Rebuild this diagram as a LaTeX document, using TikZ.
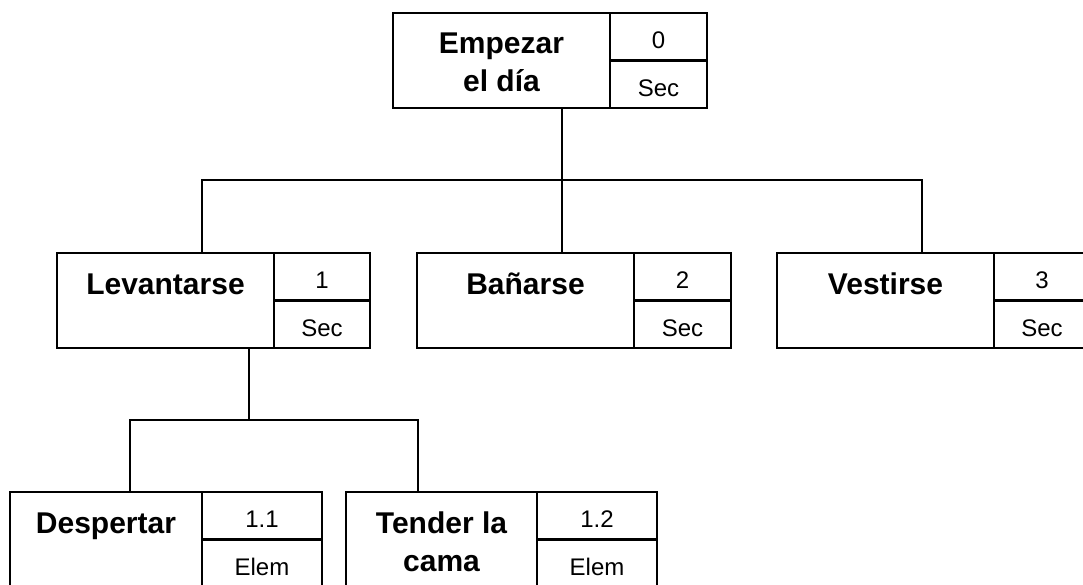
\documentclass[tikz,border=0pt]{standalone}
\usepackage{fontspec}
\setmainfont{Liberation Sans}
\begin{document}
\begin{tikzpicture}[x=1pt,y=-1pt,line join=miter]
  % Local definitions
  \def\boxh{95}

  % Styles
  \tikzstyle{box line}=[line width=2.7pt]
  \tikzstyle{main cell}=[draw,style=box line,rectangle,anchor=north west,
    inner sep=0pt,outer sep=0pt,minimum height=\boxh pt]
  \tikzstyle{num cell}=[draw,style=box line,rectangle,anchor=north west,
    inner sep=0pt,outer sep=0pt,minimum height=47.5pt,
    font=\fontsize{24}{28}\selectfont,text height=24pt,text depth=0pt]
  \tikzstyle{task text}=[anchor=base,inner sep=0pt,
    font=\fontsize{30}{38}\selectfont\bfseries]
  \tikzstyle{connector}=[line width=2.7pt]

  \useasboundingbox (0,0) rectangle (1083,585);

  % The boxes
  \foreach \id/\x/\y/\mw/\nw/\num/\kind/\txt in {
      empezar/393/13/217/97/0/Sec/{Empezar\\el día},
      levantarse/57/253/217/96/1/Sec/Levantarse,
      banarse/417/253/217/97/2/Sec/Bañarse,
      vestirse/777/253/217/96/3/Sec/Vestirse,
      despertar/10/492/192/120/1.1/Elem/Despertar,
      tender/346/492/191/120/1.2/Elem/{Tender la\\cama}}
  {
    \node[main cell,minimum width=\mw pt] (\id) at (\x,\y) {};
    \node[task text] (\id text) at ([yshift=-41pt]\id.north)
      {\begin{tabular}[t]{@{}c@{}}\txt\end{tabular}};
    \node[num cell,minimum width=\nw pt] (\id num) at (\id.north east) {\num};
    \node[num cell,minimum width=\nw pt] (\id kind) at (\id num.south west) {\kind};
  }

  % Where the connectors meet the boxes
  \coordinate (empezar out) at ([xshift=169pt]empezar.south west);
  \coordinate (levantarse out) at ([xshift=192pt]levantarse.south west);
  \coordinate (levantarse in) at ([xshift=145pt]levantarse.north west);
  \coordinate (banarse in) at ([xshift=145pt]banarse.north west);
  \coordinate (vestirse in) at ([xshift=145pt]vestirse.north west);
  \coordinate (despertar in) at ([xshift=120pt]despertar.north west);
  \coordinate (tender in) at ([xshift=72pt]tender.north west);
  \coordinate (bus one) at (empezar out |- 0,180);
  \coordinate (bus two) at (levantarse out |- 0,420);

  % The connectors
  \draw[connector] (empezar out) -- (banarse in);
  \draw[connector] (levantarse in) |- (bus one) -| (vestirse in);
  \draw[connector] (levantarse out) -- (bus two);
  \draw[connector] (despertar in) |- (bus two) -| (tender in);
\end{tikzpicture}
\end{document}
